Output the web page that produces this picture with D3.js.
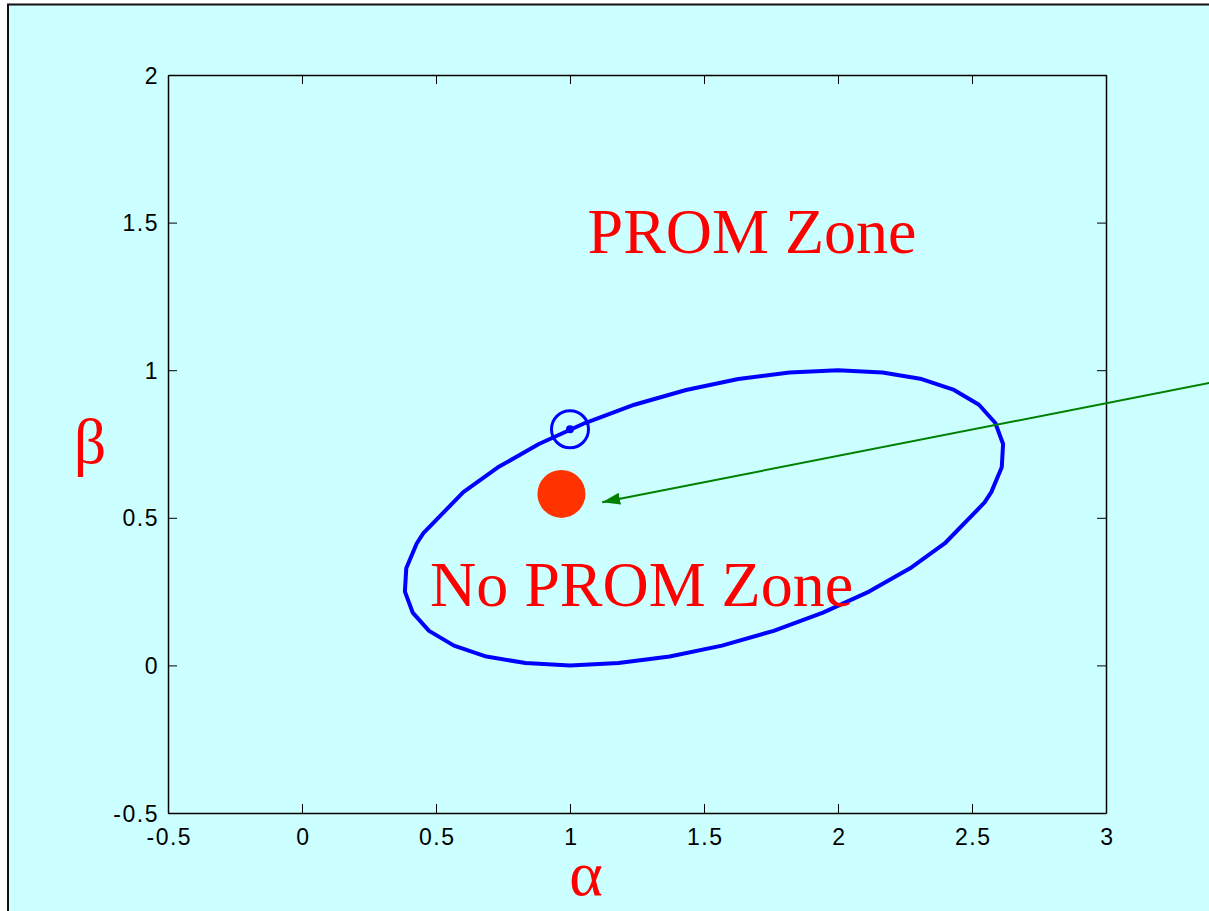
<!DOCTYPE html>
<html>
<head>
<meta charset="utf-8">
<script src="https://cdn.jsdelivr.net/npm/d3@7"></script>
<style>
  html, body { margin: 0; padding: 0; background: #ffffff; }
  svg { display: block; }
</style>
</head>
<body>
<svg id="chart" width="1209" height="911"></svg>
<script>
// ---------------- data ----------------
const xTicks = [-0.5, 0, 0.5, 1, 1.5, 2, 2.5, 3];
const yTicks = [-0.5, 0, 0.5, 1, 1.5, 2];
const xDomain = [-0.5, 3];
const yDomain = [-0.5, 2];

// boundary of the "No PROM Zone" (alpha, beta)
const ellipseAlpha = [2.547, 2.572, 2.611, 2.616, 2.587, 2.526, 2.433, 2.312, 2.166, 2.000,
                      1.819, 1.628, 1.433, 1.240, 1.056, 0.884, 0.731, 0.602,
                      0.453, 0.428, 0.389, 0.384, 0.413, 0.474, 0.567, 0.688, 0.834, 1.000,
                      1.181, 1.372, 1.567, 1.760, 1.944, 2.116, 2.269, 2.398];
const ellipseBeta  = [0.552, 0.587, 0.671, 0.750, 0.821, 0.883, 0.933, 0.970, 0.992, 1.000,
                      0.992, 0.970, 0.933, 0.883, 0.821, 0.750, 0.671, 0.587,
                      0.448, 0.413, 0.329, 0.250, 0.179, 0.117, 0.067, 0.030, 0.008, 0.000,
                      0.008, 0.030, 0.067, 0.117, 0.179, 0.250, 0.329, 0.413];

const circledPoint = [1.0, 0.8];     // open circle on boundary
const redPoint = [0.968, 0.581];     // filled red point
const arrowFrom = [3.5, 0.977];
const arrowTo = [1.12, 0.553];

const zoneLabels = [
  { text: "PROM Zone", alpha: 1.0656, beta: 1.398 },
  { text: "No PROM Zone", alpha: 0.4776, beta: 0.202 }
];
const xLabel = "α";
const yLabel = "β";

// ---------------- layout ----------------
const svg = d3.select("#chart");
const M = { left: 168, top: 75, right: 1106, bottom: 813 };

// outer frame
svg.append("rect")
  .attr("x", 8).attr("y", 4.5)
  .attr("width", 1300).attr("height", 1000)
  .attr("fill", "#CCFFFF")
  .attr("stroke", "#111").attr("stroke-width", 2);

const x = d3.scaleLinear().domain(xDomain).range([M.left, M.right]);
const y = d3.scaleLinear().domain(yDomain).range([M.bottom, M.top]);

const fmt = d => String(d);
const tickFont = "'Liberation Sans', Arial, sans-serif";

// axes
const gB = svg.append("g").attr("transform", `translate(0,${M.bottom})`)
  .call(d3.axisBottom(x).tickValues(xTicks).tickSize(-9).tickSizeOuter(0).tickFormat(fmt));
const gT = svg.append("g").attr("transform", `translate(0,${M.top})`)
  .call(d3.axisTop(x).tickValues(xTicks).tickSize(-9).tickSizeOuter(0).tickFormat(""));
const gL = svg.append("g").attr("transform", `translate(${M.left},0)`)
  .call(d3.axisLeft(y).tickValues(yTicks).tickSize(-9).tickSizeOuter(0).tickFormat(fmt));
const gR = svg.append("g").attr("transform", `translate(${M.right},0)`)
  .call(d3.axisRight(y).tickValues(yTicks).tickSize(-9).tickSizeOuter(0).tickFormat(""));

[gB, gT, gL, gR].forEach(g => {
  g.attr("font-size", null).attr("font-family", null);
  g.select(".domain").attr("stroke", "#000").attr("stroke-width", 1.5);
  g.selectAll(".tick line").attr("stroke", "#000").attr("stroke-width", 1);
});

gB.selectAll(".tick text")
  .attr("y", 32).attr("dy", 0).attr("dx", 0.8)
  .style("font-family", tickFont).style("font-size", "23px")
  .style("letter-spacing", "1.5px")
  .attr("fill", "#000");
gL.selectAll(".tick text")
  .attr("x", -9).attr("dy", "0.35em")
  .style("font-family", tickFont).style("font-size", "23px")
  .style("letter-spacing", "1.5px")
  .attr("fill", "#000");

// boundary curve
const pts = ellipseAlpha.map((a, i) => [a, ellipseBeta[i]]);
svg.append("path")
  .datum(pts)
  .attr("d", d3.line().x(d => x(d[0])).y(d => y(d[1])).curve(d3.curveLinearClosed))
  .attr("fill", "none")
  .attr("stroke", "#0000FF")
  .attr("stroke-width", 4)
  .attr("stroke-linejoin", "round");

// circled point
svg.append("circle")
  .attr("cx", x(circledPoint[0])).attr("cy", y(circledPoint[1]))
  .attr("r", 18.5).attr("fill", "none")
  .attr("stroke", "#0000FF").attr("stroke-width", 3);
svg.append("circle")
  .attr("cx", x(circledPoint[0])).attr("cy", y(circledPoint[1]))
  .attr("r", 4).attr("fill", "#0000FF");

// red point
svg.append("circle")
  .attr("cx", x(redPoint[0])).attr("cy", y(redPoint[1]))
  .attr("r", 24).attr("fill", "#FF3300");

// arrow
const defs = svg.append("defs");
defs.append("marker")
  .attr("id", "arrowhead")
  .attr("viewBox", "0 0 18 12")
  .attr("refX", 18).attr("refY", 6)
  .attr("markerWidth", 18).attr("markerHeight", 12)
  .attr("markerUnits", "userSpaceOnUse")
  .attr("orient", "auto")
  .append("path")
  .attr("d", "M0,0 L18,6 L0,12 Z")
  .attr("fill", "#008000");

svg.append("line")
  .attr("x1", x(arrowFrom[0])).attr("y1", y(arrowFrom[1]))
  .attr("x2", x(arrowTo[0])).attr("y2", y(arrowTo[1]))
  .attr("stroke", "#008000").attr("stroke-width", 2)
  .attr("marker-end", "url(#arrowhead)");

// zone labels
svg.selectAll("text.zone")
  .data(zoneLabels)
  .join("text")
  .attr("class", "zone")
  .attr("x", d => x(d.alpha)).attr("y", d => y(d.beta))
  .attr("font-family", "'Liberation Serif', 'Times New Roman', serif")
  .attr("font-size", 64)
  .attr("fill", "#FF0000")
  .text(d => d.text);

// axis labels
svg.append("text")
  .attr("x", 586).attr("y", 895)
  .attr("text-anchor", "middle")
  .attr("font-family", "'Liberation Serif', 'Times New Roman', serif")
  .attr("font-size", 64).attr("fill", "#FF0000")
  .text(xLabel);
svg.append("text")
  .attr("x", 90).attr("y", 463)
  .attr("text-anchor", "middle")
  .attr("font-family", "'Liberation Serif', 'Times New Roman', serif")
  .attr("font-size", 64).attr("fill", "#FF0000")
  .text(yLabel);
</script>
</body>
</html>
